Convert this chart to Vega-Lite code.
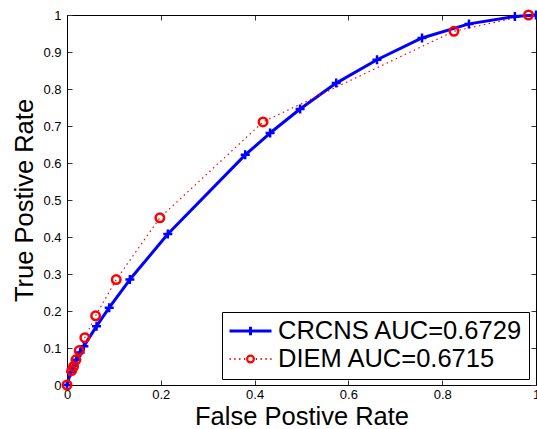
{
  "$schema": "https://vega.github.io/schema/vega-lite/v6.json",
  "width": 469,
  "height": 370,
  "autosize": {"type": "none"},
  "padding": {"left": 67, "top": 15, "right": 1, "bottom": 44},
  "background": "white",
  "config": {
    "view": {"stroke": null},
    "font": "Liberation Sans",
    "axis": {
      "grid": false,
      "domainColor": "black",
      "domainWidth": 1,
      "tickColor": "#333333",
      "tickSize": -5,
      "tickWidth": 1,
      "labelColor": "black",
      "labelFontSize": 13,
      "labelFont": "Liberation Sans",
      "titleFont": "Liberation Sans",
      "titleFontSize": 25.5,
      "titleFontWeight": "normal",
      "titleColor": "black",
      "labelFlush": false,
      "labelOverlap": false
    },
    "legend": {
      "title": null,
      "orient": "none",
      "legendX": 155,
      "legendY": 297,
      "strokeColor": "black",
      "fillColor": "white",
      "padding": 6,
      "labelFontSize": 25.5,
      "labelFont": "Liberation Sans",
      "labelColor": "black",
      "symbolSize": 1764,
      "clipHeight": 26,
      "rowPadding": 1,
      "labelOffset": 5,
      "symbolOpacity": 1,
      "symbolFillColor": "transparent",
      "labelLimit": 400,
      "cornerRadius": 0
    }
  },
  "data": {
    "values": [
      {"series": "CRCNS AUC=0.6729", "fpr": 0, "tpr": 0},
      {"series": "CRCNS AUC=0.6729", "fpr": 0.008, "tpr": 0.035},
      {"series": "CRCNS AUC=0.6729", "fpr": 0.014, "tpr": 0.052},
      {"series": "CRCNS AUC=0.6729", "fpr": 0.02, "tpr": 0.068},
      {"series": "CRCNS AUC=0.6729", "fpr": 0.028, "tpr": 0.088},
      {"series": "CRCNS AUC=0.6729", "fpr": 0.036, "tpr": 0.105},
      {"series": "CRCNS AUC=0.6729", "fpr": 0.063, "tpr": 0.159},
      {"series": "CRCNS AUC=0.6729", "fpr": 0.09, "tpr": 0.209},
      {"series": "CRCNS AUC=0.6729", "fpr": 0.134, "tpr": 0.285},
      {"series": "CRCNS AUC=0.6729", "fpr": 0.215, "tpr": 0.408},
      {"series": "CRCNS AUC=0.6729", "fpr": 0.38, "tpr": 0.622},
      {"series": "CRCNS AUC=0.6729", "fpr": 0.433, "tpr": 0.681},
      {"series": "CRCNS AUC=0.6729", "fpr": 0.497, "tpr": 0.746},
      {"series": "CRCNS AUC=0.6729", "fpr": 0.574, "tpr": 0.816},
      {"series": "CRCNS AUC=0.6729", "fpr": 0.661, "tpr": 0.879},
      {"series": "CRCNS AUC=0.6729", "fpr": 0.757, "tpr": 0.938},
      {"series": "CRCNS AUC=0.6729", "fpr": 0.857, "tpr": 0.976},
      {"series": "CRCNS AUC=0.6729", "fpr": 0.955, "tpr": 0.996},
      {"series": "CRCNS AUC=0.6729", "fpr": 1, "tpr": 1},
      {"series": "DIEM AUC=0.6715", "fpr": 0, "tpr": 0},
      {"series": "DIEM AUC=0.6715", "fpr": 0.01, "tpr": 0.039},
      {"series": "DIEM AUC=0.6715", "fpr": 0.014, "tpr": 0.05},
      {"series": "DIEM AUC=0.6715", "fpr": 0.019, "tpr": 0.068},
      {"series": "DIEM AUC=0.6715", "fpr": 0.026, "tpr": 0.093},
      {"series": "DIEM AUC=0.6715", "fpr": 0.038, "tpr": 0.128},
      {"series": "DIEM AUC=0.6715", "fpr": 0.061, "tpr": 0.187},
      {"series": "DIEM AUC=0.6715", "fpr": 0.105, "tpr": 0.285},
      {"series": "DIEM AUC=0.6715", "fpr": 0.198, "tpr": 0.452},
      {"series": "DIEM AUC=0.6715", "fpr": 0.418, "tpr": 0.711},
      {"series": "DIEM AUC=0.6715", "fpr": 0.825, "tpr": 0.956},
      {"series": "DIEM AUC=0.6715", "fpr": 0.984, "tpr": 1}
    ]
  },
  "layer": [
    {
      "encoding": {
        "x": {
          "field": "fpr", "type": "quantitative",
          "scale": {"domain": [0, 1], "nice": false},
          "axis": {"orient": "bottom", "values": [0, 0.2, 0.4, 0.6, 0.8, 1], "format": "~g", "title": "False Postive Rate", "labelPadding": 8, "titlePadding": 3}
        },
        "y": {
          "field": "tpr", "type": "quantitative",
          "scale": {"domain": [0, 1], "nice": false},
          "axis": {"orient": "left", "values": [0, 0.1, 0.2, 0.3, 0.4, 0.5, 0.6, 0.7, 0.8, 0.9, 1], "format": "~g", "title": "True Postive Rate", "labelPadding": 11, "titlePadding": 5}
        },
        "color": {
          "field": "series", "type": "nominal",
          "scale": {"domain": ["CRCNS AUC=0.6729", "DIEM AUC=0.6715"], "range": ["#0000ff", "#ff0000"]}
        }
      },
      "layer": [
        {
          "transform": [{"filter": {"field": "series", "equal": "CRCNS AUC=0.6729"}}],
          "mark": {"type": "line", "clip": false, "strokeWidth": 3, "strokeJoin": "round"}
        },
        {
          "transform": [{"filter": {"field": "series", "equal": "DIEM AUC=0.6715"}}],
          "mark": {"type": "line", "clip": false, "strokeWidth": 1.2, "strokeDash": [1.5, 3.5]}
        },
        {
          "transform": [{"filter": {"field": "series", "equal": "CRCNS AUC=0.6729"}}],
          "mark": {"type": "point", "filled": false, "opacity": 1, "strokeWidth": 2.5, "size": 81, "shape": "M-1,0H1M0,-1V1", "clip": false}
        },
        {
          "transform": [{"filter": {"field": "series", "equal": "DIEM AUC=0.6715"}}],
          "mark": {"type": "point", "filled": false, "opacity": 1, "strokeWidth": 2.5, "size": 72, "shape": "circle", "clip": false}
        }
      ]
    },
    {
      "mark": {"type": "point", "filled": false, "opacity": 0},
      "encoding": {
        "x": {
          "field": "fpr", "type": "quantitative",
          "scale": {"domain": [0, 1], "nice": false},
          "axis": {"orient": "top", "values": [0, 0.2, 0.4, 0.6, 0.8, 1], "labels": false, "title": null}
        },
        "y": {
          "field": "tpr", "type": "quantitative",
          "scale": {"domain": [0, 1], "nice": false},
          "axis": {"orient": "right", "values": [0, 0.1, 0.2, 0.3, 0.4, 0.5, 0.6, 0.7, 0.8, 0.9, 1], "labels": false, "title": null}
        },
        "color": {
          "field": "series", "type": "nominal",
          "scale": {"domain": ["CRCNS AUC=0.6729", "DIEM AUC=0.6715"], "range": ["#0000ff", "#ff0000"]},
          "legend": {"title": null}
        },
        "shape": {
          "field": "series", "type": "nominal",
          "scale": {"domain": ["CRCNS AUC=0.6729", "DIEM AUC=0.6715"], "range": ["M-1,0H1M0,-0.2V0.2", "M-1,0h0.06M-0.77,0h0.06M-0.54,0h0.06M-0.31,0h0.06M0.25,0h0.06M0.48,0h0.06M0.71,0h0.06M0.94,0h0.06M0.16,0A0.16,0.16 0 1 1 -0.16,0A0.16,0.16 0 1 1 0.16,0"]},
          "legend": {"title": null}
        },
        "strokeWidth": {
          "field": "series", "type": "ordinal",
          "scale": {"domain": ["CRCNS AUC=0.6729", "DIEM AUC=0.6715"], "range": [3, 2.2]},
          "legend": {"title": null}
        }
      }
    }
  ],
  "resolve": {"axis": {"x": "independent", "y": "independent"}}
}
